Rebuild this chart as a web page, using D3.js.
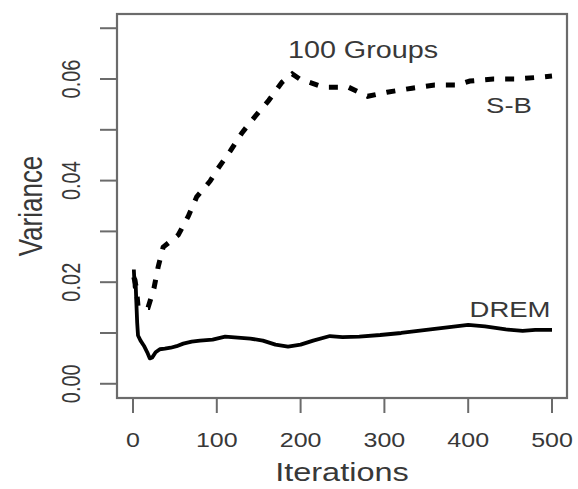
<!DOCTYPE html>
<html>
<head>
<meta charset="utf-8">
<script src="https://cdn.jsdelivr.net/npm/d3@7"></script>
<style>
  body { margin: 0; background: #fff; }
  text { font-family: "Liberation Sans", Arial, sans-serif; fill: #383838; }
</style>
</head>
<body>
<div id="chart"></div>
<script>
// iterations / variance
var sbIter = [1, 4, 6, 10, 18, 25, 30, 36, 54, 66, 76, 92, 101, 116, 130, 146, 162, 178, 190, 199, 227, 257, 280, 303, 333, 360, 387, 402, 430, 458, 488, 500];
var sbVal  = [0.021, 0.019, 0.0152, 0.0150, 0.0150, 0.0188, 0.0230, 0.0269, 0.0293, 0.0330, 0.0368, 0.0399, 0.0423, 0.0458, 0.0494, 0.0527, 0.0558, 0.0594, 0.0610, 0.0600, 0.0584, 0.0584, 0.0566, 0.0574, 0.0582, 0.0588, 0.0588, 0.0596, 0.0600, 0.0600, 0.0604, 0.0606];

var dremIter = [1, 2, 3, 4, 5, 6, 9, 13, 17, 20, 23, 27, 32, 38, 45, 52, 60, 70, 80, 95, 110, 125, 140, 155, 170, 185, 200, 215, 235, 250, 270, 295, 320, 345, 370, 400, 420, 445, 465, 480, 500];
var dremVal  = [0.0225, 0.0190, 0.0205, 0.0160, 0.0120, 0.0095, 0.0085, 0.0075, 0.0062, 0.0050, 0.0052, 0.0062, 0.0068, 0.0069, 0.0071, 0.0074, 0.0079, 0.0083, 0.0085, 0.0087, 0.0093, 0.0091, 0.0089, 0.0085, 0.0077, 0.0073, 0.0077, 0.0085, 0.0094, 0.0092, 0.0093, 0.0096, 0.0100, 0.0105, 0.0110, 0.0116, 0.0113, 0.0107, 0.0104, 0.0106, 0.0106];

var xTicks = [0, 100, 200, 300, 400, 500];
var yTicks = [0, 0.01, 0.02, 0.03, 0.04, 0.05, 0.06, 0.07];
var yLabels = [0, 0.02, 0.04, 0.06];

var W = 578, H = 489;
var box = { l: 117, r: 567, t: 14, b: 398 };
var sx = 1.25; // the picture is stretched sideways

var x = d3.scaleLinear().domain([0, 500]).range([133, 552]);
var y = d3.scaleLinear().domain([-0.0028, 0.0728]).range([box.b, box.t]);

var svg = d3.select("#chart").append("svg")
  .attr("width", W)
  .attr("height", H);

// box
svg.append("rect")
  .attr("x", box.l).attr("y", box.t)
  .attr("width", box.r - box.l).attr("height", box.b - box.t)
  .attr("fill", "none").attr("stroke", "#6b6b6b").attr("stroke-width", 2.2);

// y ticks
svg.selectAll(".ytick").data(yTicks).enter().append("line")
  .attr("x1", 100).attr("x2", box.l)
  .attr("y1", function(d) { return y(d); })
  .attr("y2", function(d) { return y(d); })
  .attr("stroke", "#6b6b6b").attr("stroke-width", 2);

svg.selectAll(".ylab").data(yLabels).enter().append("text")
  .attr("transform", function(d) {
    return "translate(80," + y(d) + ") scale(" + sx + ",1) rotate(-90)";
  })
  .attr("text-anchor", "middle")
  .style("font-size", "20px")
  .text(function(d) { return d3.format(".2f")(d); });

// x ticks
svg.selectAll(".xtick").data(xTicks).enter().append("line")
  .attr("y1", box.b).attr("y2", 413)
  .attr("x1", function(d) { return x(d); })
  .attr("x2", function(d) { return x(d); })
  .attr("stroke", "#6b6b6b").attr("stroke-width", 2);

svg.selectAll(".xlab").data(xTicks).enter().append("text")
  .attr("transform", function(d) {
    return "translate(" + x(d) + ",447) scale(" + sx + ",1)";
  })
  .attr("text-anchor", "middle")
  .style("font-size", "20px")
  .text(function(d) { return d; });

// axis titles
svg.append("text")
  .attr("transform", "translate(342,481) scale(" + sx + ",1)")
  .attr("text-anchor", "middle")
  .style("font-size", "26px")
  .text("Iterations");

svg.append("text")
  .attr("transform", "translate(42,206) scale(" + sx + ",1) rotate(-90)")
  .attr("text-anchor", "middle")
  .style("font-size", "26px")
  .text("Variance");

// lines
var line = d3.line()
  .x(function(d) { return x(d[0]); })
  .y(function(d) { return y(d[1]); });

svg.append("path")
  .datum(d3.zip(dremIter, dremVal))
  .attr("d", line)
  .attr("fill", "none")
  .attr("stroke", "#000")
  .attr("stroke-width", 3.8)
  .attr("stroke-linejoin", "round");

svg.append("path")
  .datum(d3.zip(sbIter, sbVal))
  .attr("d", line)
  .attr("fill", "none")
  .attr("stroke", "#000")
  .attr("stroke-width", 5)
  .attr("stroke-dasharray", "9,11");

// labels
svg.append("text")
  .attr("transform", "translate(363,58) scale(" + sx + ",1)")
  .attr("text-anchor", "middle")
  .style("font-size", "23px")
  .text("100 Groups");

svg.append("text")
  .attr("transform", "translate(509,113) scale(" + sx + ",1)")
  .attr("text-anchor", "middle")
  .style("font-size", "22px")
  .text("S-B");

svg.append("text")
  .attr("transform", "translate(510,317) scale(" + sx + ",1)")
  .attr("text-anchor", "middle")
  .style("font-size", "22px")
  .text("DREM");
</script>
</body>
</html>
